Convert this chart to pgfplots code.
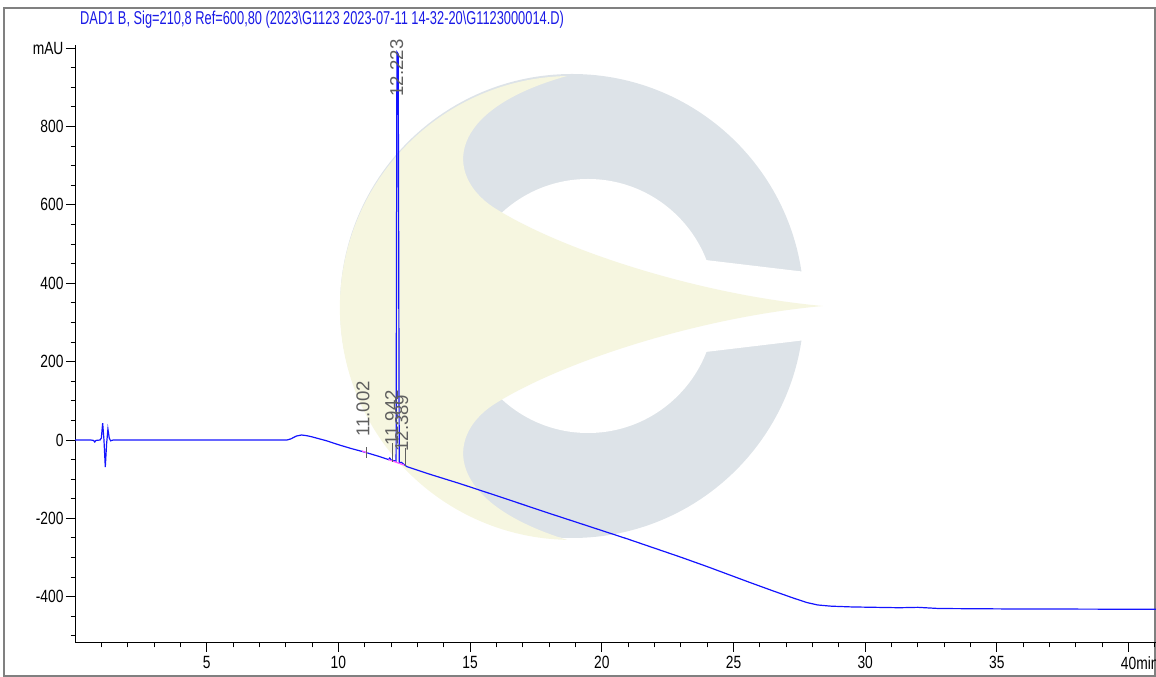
\documentclass[border=0pt]{standalone}
\usepackage{graphicx}
\usepackage{fontspec}
\setmainfont{Liberation Sans}
\usepackage{pgfplots}
\pgfplotsset{compat=1.18}

\definecolor{trace}{RGB}{20,20,255}
\definecolor{titleblue}{RGB}{25,25,230}
\definecolor{lblgray}{RGB}{95,95,95}
\definecolor{framegray}{RGB}{128,128,128}
\definecolor{wmyellow}{RGB}{246,246,224}
\definecolor{wmgray}{RGB}{221,227,232}
\definecolor{basepink}{RGB}{255,90,255}

\newcommand\sx[1]{\scalebox{0.78}[1]{#1}}

\begin{document}
\begin{tikzpicture}
\useasboundingbox (0,0) rectangle (1156pt,677pt);

% watermark logo, drawn in pixel coordinates (y downwards)
\begin{scope}[shift={(0,677pt)}, yscale=-1, x=1pt, y=1pt]
  \begin{scope}
    \clip (0,0) rectangle (803,677);
    \fill[wmgray] (572,306) circle[radius=232];
  \end{scope}
  \fill[white] (588,306) circle[radius=127];
  \fill[white] (660,255) -- (697,259) -- (806,272) -- (806,340) -- (697,353) -- (660,357) -- cycle;
  \fill[wmyellow] (567,76) arc[start angle=268.8, end angle=91.2, radius=232]
    .. controls (445,502) and (445,437) .. (493,405)
    .. controls (560,362) and (700,317) .. (823,306)
    .. controls (700,295) and (560,250) .. (493,207)
    .. controls (445,175) and (445,110) .. (567,76) -- cycle;
\end{scope}

\draw[framegray, line width=1.5pt] (4pt,1pt) rectangle (1155pt,669pt);

\node[anchor=base west, inner sep=0, text=titleblue, font=\fontsize{18.6}{20}\selectfont]
  at (80pt,652pt) {\scalebox{0.69}[1]{DAD1 B, Sig=210,8 Ref=600,80 (2023\textbackslash G1123 2023-07-11 14-32-20\textbackslash G1123000014.D)}};

\begin{axis}[
    at={(75pt,34pt)}, anchor=south west,
    scale only axis, width=1081pt, height=598pt,
    xmin=0, xmax=41.04, ymin=-518, ymax=1008,
    axis x line=bottom, axis y line=left,
    axis line style={-, black, line width=1pt},
    tick align=outside, tick style={black, line width=1pt},
    major tick length=9pt, minor tick length=4.5pt,
    xtick={5,10,...,40},
    xticklabels={\sx{5},\sx{10},\sx{15},\sx{20},\sx{25},\sx{30},\sx{35},\sx{40}\rlap{\sx{min}}},
    minor xtick={1,...,41},
    ytick={-400,-200,...,1000},
    yticklabels={\sx{-400},\sx{-200},\sx{0},\sx{200},\sx{400},\sx{600},\sx{800},\sx{mAU}},
    minor ytick={-500,-450,...,950},
    ticklabel style={font=\fontsize{17.7}{20}\selectfont, text=black},
    xticklabel style={yshift=-1pt},
    yticklabel style={xshift=1pt},
    clip=false,
]
\addplot[trace, line width=1.2pt] coordinates {
  (0,0) (0.6,0) (0.7,-1) (0.75,-5) (0.8,-1) (0.95,0) (1.0,5) (1.05,43)
  (1.1,0) (1.15,-69) (1.2,-10) (1.25,28) (1.3,5) (1.35,-2) (1.45,0)
  (3,0) (5,0) (7,0) (8.05,0) (8.2,3) (8.4,10) (8.6,12.8) (8.8,11) (9.0,8)
  (9.55,-2) (10.05,-13) (10.5,-22) (11.0,-31) (11.5,-41) (11.9,-50)
  (11.95,-46) (12.0,-51) (12.19,-54) (12.222,990) (12.27,985) (12.31,-58)
  (12.39,-57) (12.6,-68) (13.5,-88) (14.6,-111) (16,-142) (18.0,-187)
  (20.0,-231) (21,-253) (22,-276) (23,-299) (24,-323) (25,-348)
  (25.6,-363) (26.5,-385) (27.3,-404) (27.8,-415) (28.2,-421) (28.7,-424)
  (29.5,-426) (31.3,-428) (32.0,-427) (32.8,-430) (35.2,-431) (41.04,-432)
};
\addplot[basepink, line width=1.2pt] coordinates {(10.9,-28) (11.1,-33)};
\addplot[basepink, line width=1.2pt] coordinates {(11.9,-50) (12.5,-64)};

\addplot[lblgray, line width=0.8pt] coordinates {(11.05,-18) (11.05,-46)};
\addplot[lblgray, line width=0.8pt] coordinates {(12.05,-8) (12.05,-55)};
\addplot[lblgray, line width=0.8pt] coordinates {(12.55,-20) (12.55,-66)};

\node[rotate=90, anchor=west, inner sep=0, text=lblgray, font=\fontsize{18.6}{20}\selectfont]
  at (axis cs:12.21,876) {12.223};
\node[rotate=90, anchor=west, inner sep=0, text=lblgray, font=\fontsize{18.6}{20}\selectfont]
  at (axis cs:10.93,8) {11.002};
\node[rotate=90, anchor=west, inner sep=0, text=lblgray, font=\fontsize{18.6}{20}\selectfont]
  at (axis cs:12.02,-15) {11.942};
\node[rotate=90, anchor=west, inner sep=0, text=lblgray, font=\fontsize{18.6}{20}\selectfont]
  at (axis cs:12.4,-30) {12.389};
\end{axis}
\end{tikzpicture}
\end{document}
